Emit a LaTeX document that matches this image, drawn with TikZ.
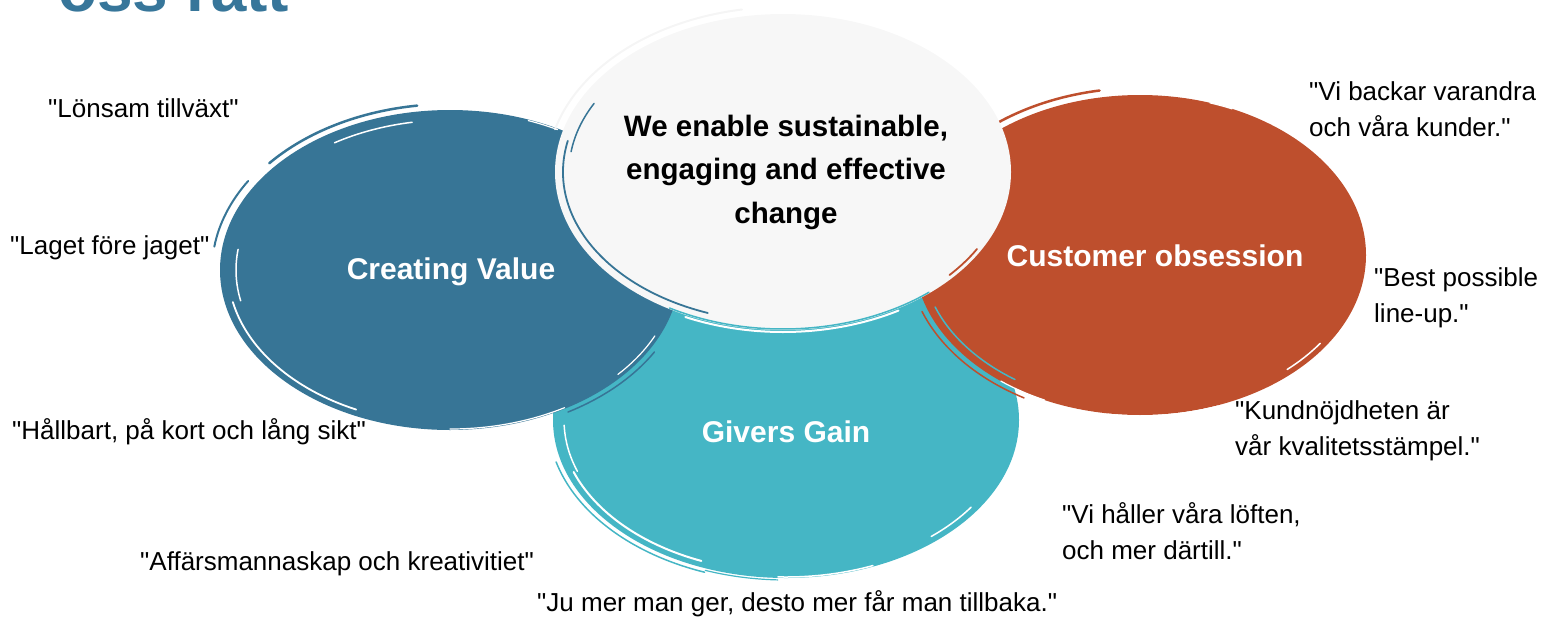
\documentclass[tikz,border=0pt]{standalone}
\usepackage{fontspec}
\setmainfont{Liberation Sans}[Ligatures=TeXOff]
\usetikzlibrary{shapes.geometric}
\definecolor{cvblue}{HTML}{377596}
\definecolor{ggteal}{HTML}{45B6C5}
\definecolor{coorange}{HTML}{BE4F2D}
\definecolor{centerwhite}{HTML}{F7F7F7}
\definecolor{titleblue}{HTML}{37769A}
\newcommand{\brsh}[5]{\draw[#1] (#4:#2pt and #3pt) arc[start angle=#4, end angle=#5, x radius=#2pt, y radius=#3pt];}
\begin{document}
\begin{tikzpicture}[x=1pt,y=1pt,
  blob/.style={ellipse, inner sep=0pt, outer sep=0pt},
  qtext/.style={font=\fontsize{26}{36}\selectfont, align=left, anchor=west, inner sep=0pt, text=black},
  circlelabel/.style={font=\fontsize{30}{36}\selectfont\bfseries, text=white, inner sep=0pt},
  brushw/.style={line width=#1, line cap=round}]
\useasboundingbox (0,0) rectangle (1543,-619);
\clip (0,0) rectangle (1543,-619);

\node[anchor=base west, font=\fontsize{64}{64}\selectfont\bfseries, text=titleblue, inner sep=0pt] (title) at (58,-11) {oss rätt};

% Givers Gain
\node[blob, fill=ggteal, minimum width=466pt, minimum height=316pt] (gg) at (786,-420) {};
\begin{scope}[shift={(gg.center)}]
 \brsh{white,brushw=1.5pt}{222}{150}{182}{200}
 \brsh{white,brushw=2pt}{226}{152}{200}{248}
 \brsh{ggteal,brushw=1.5pt}{238}{162}{195}{250}
 \brsh{ggteal,brushw=1.2pt}{236}{160}{250}{268}
 \brsh{white,brushw=1.5pt}{232}{157}{268}{292}
 \brsh{white,brushw=1.5pt}{226}{152}{310}{325}
\end{scope}

% Creating Value
\node[blob, fill=cvblue, minimum width=460pt, minimum height=320pt] (cv) at (450,-270) {};
\begin{scope}[shift={(cv.center)}]
 \brsh{cvblue,brushw=2.5pt}{236}{166}{98}{140}
 \brsh{cvblue,brushw=2pt}{238}{168}{148}{172}
 \brsh{cvblue,brushw=1.5pt}{236}{164}{300}{330}
 \brsh{white,brushw=1.5pt}{218}{150}{100}{122}
 \brsh{white,brushw=1.5pt}{214}{148}{172}{192}
 \brsh{white,brushw=1.8pt}{222}{154}{192}{245}
 \brsh{white,brushw=1.2pt}{229}{159}{270}{300}
 \brsh{white,brushw=1.2pt}{226}{156}{318}{335}
 \brsh{white,brushw=1.2pt}{229}{159}{62}{70}
\end{scope}

% Customer obsession
\node[blob, fill=coorange, minimum width=452pt, minimum height=320pt] (co) at (1140,-255) {};
\begin{scope}[shift={(co.center)}]
 \brsh{coorange,brushw=2.5pt}{233}{167}{100}{128}
 \brsh{white,brushw=1.2pt}{228}{162}{100}{118}
 \brsh{white,brushw=1.2pt}{226}{160}{66}{72}
 \brsh{white,brushw=1.5pt}{220}{154}{312}{325}
 \brsh{white,brushw=1.5pt}{227}{161}{262}{290}
 \brsh{ggteal,brushw=1.5pt}{218}{152}{200}{235}
 \brsh{coorange,brushw=1.5pt}{232}{165}{200}{240}
 \brsh{white,brushw=1.2pt}{226}{160}{232}{245}
\end{scope}

% Core
\node[blob, fill=centerwhite, minimum width=456pt, minimum height=316pt] (core) at (783,-172) {};
\begin{scope}[shift={(core.center)}]
 \brsh{gray!8,brushw=2pt}{236}{165}{100}{165}
 \brsh{cvblue,brushw=1.5pt}{214}{146}{152}{172}
 \brsh{cvblue,brushw=1.8pt}{220}{150}{168}{250}
 \brsh{ggteal,brushw=1.5pt}{227}{157}{240}{310}
 \brsh{white,brushw=2pt}{231}{160}{245}{300}
 \brsh{coorange,brushw=1.8pt}{224}{154}{318}{330}
\end{scope}

% Labels
\node[circlelabel] (cvt) at (451,-272) {Creating Value};
\node[circlelabel] (cot) at (1155,-256) {Customer obsession};
\node[circlelabel] (ggt) at (786,-432) {Givers Gain};
\node[font=\fontsize{29.5}{43.5}\selectfont\bfseries, align=center, inner sep=0pt] (coret) at (786,-172) {We enable sustainable,\\engaging and effective\\change};

% Quotes
\node[qtext] (q1) at (48,-108) {"Lönsam tillväxt"};
\node[qtext] (q2) at (10,-248) {"Laget före jaget"};
\node[qtext] (q3) at (12,-432) {"Hållbart, på kort och lång sikt"};
\node[qtext] (q4) at (140,-564) {"Affärsmannaskap och kreativitiet"};
\node[qtext] (q5) at (537,-604) {"Ju mer man ger, desto mer får man tillbaka."};
\node[qtext] (q6) at (1062,-531) {"Vi håller våra löften,\\och mer därtill."};
\node[qtext] (q7) at (1235,-431) {"Kundnöjdheten är\\vår kvalitetsstämpel."};
\node[qtext] (q8) at (1374,-298) {"Best possible\\line-up."};
\node[qtext] (q9) at (1309,-109) {"Vi backar varandra\\och våra kunder."};
\end{tikzpicture}
\end{document}
